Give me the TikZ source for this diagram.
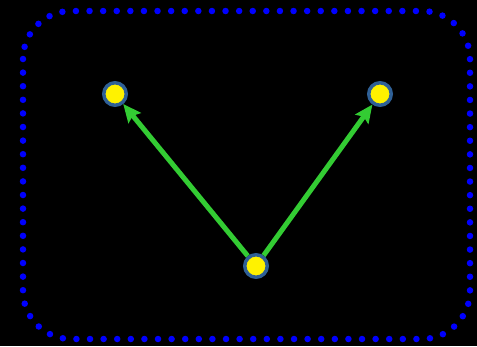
\documentclass[tikz,border=0pt]{standalone}
\usetikzlibrary{arrows.meta}
\definecolor{rimblue}{HTML}{2F6096}
\definecolor{dotblue}{HTML}{0000FF}
\definecolor{edgegreen}{HTML}{33CC33}
\tikzset{
  vertex/.style={circle, fill=yellow, draw=rimblue, line width=3.5pt, minimum size=22.5pt, inner sep=0pt},
  link/.style={draw=edgegreen, line width=5pt, -{Stealth[length=18pt,width=16pt,inset=3pt]}, shorten >=0pt},
  frame/.style={draw=dotblue, line width=6.5pt, line cap=round, dash pattern=on 0pt off 13.6pt, rounded corners=48pt}
}
\begin{document}
\begin{tikzpicture}[x=1pt,y=-1pt]
  \fill[black] (0,0) rectangle (477,346);
  \useasboundingbox (0,0) rectangle (477,346);
  \draw[frame] (23,11) rectangle (470,339);
  \node[vertex] (left)  at (115,94) {};
  \node[vertex] (right) at (380,94) {};
  \node[vertex] (base)  at (256,266) {};
  \draw[link] (base) -- (left);
  \draw[link] (base) -- (right);
\end{tikzpicture}
\end{document}
